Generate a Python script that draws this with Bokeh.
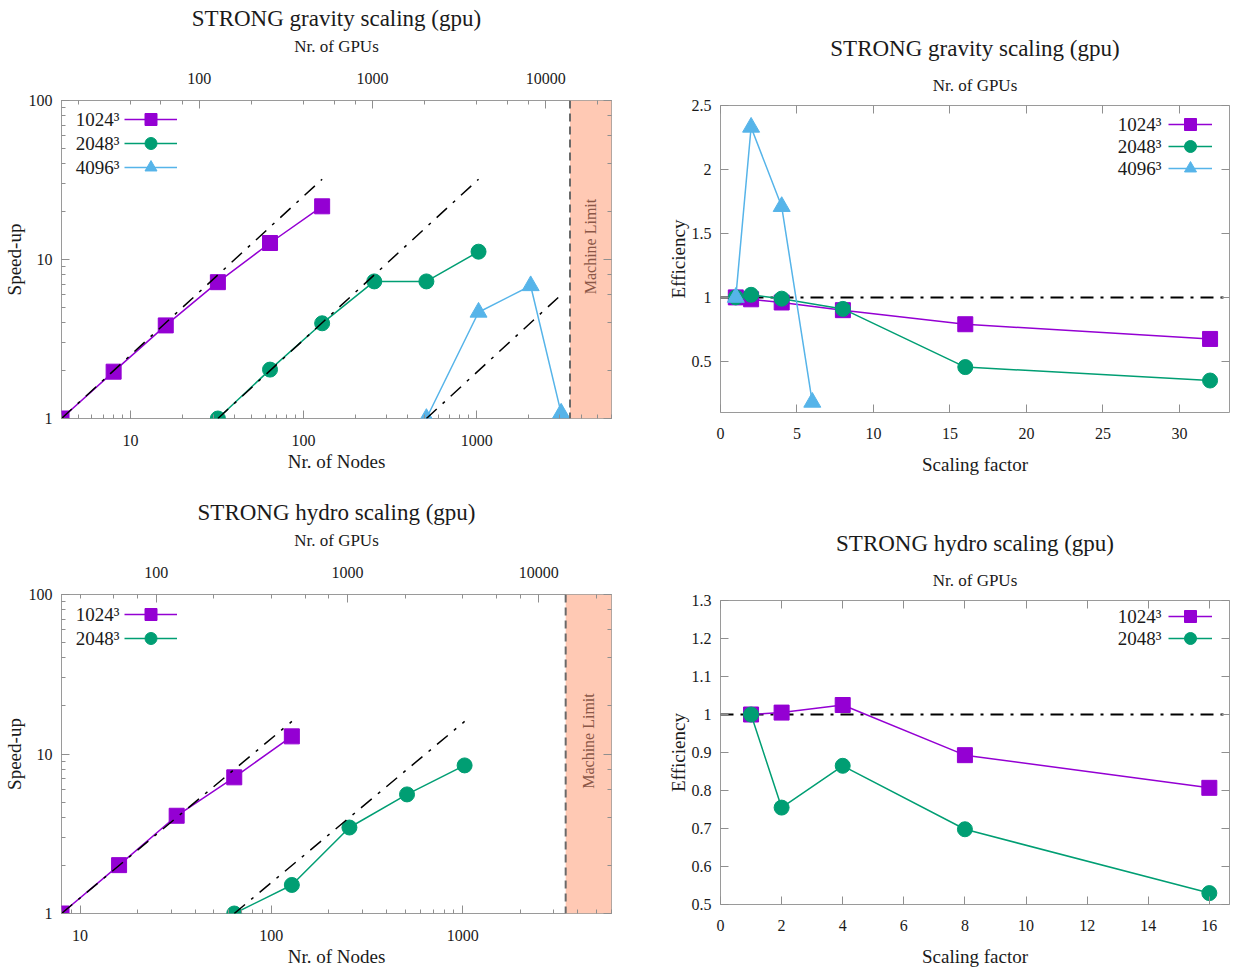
import math
from bokeh.plotting import figure
from bokeh.models import (LogAxis, LinearAxis, Range1d, LogScale, BoxAnnotation, Span, Label,
                          Legend, LegendItem, PrintfTickFormatter, FixedTicker,
                          CustomJSTickFormatter)
from bokeh.layouts import column, row
from bokeh.embed import file_html
from bokeh.resources import INLINE

# ---------------- data ----------------
GPUS_PER_NODE = 4
MACHINE_NODES = 3456
NODE_AXIS_END = 6000

grav_1024_nodes = [4, 8, 16, 32, 64, 128]
grav_1024_speedup = [1.0, 1.97, 3.85, 7.2, 12.7, 21.6]
grav_2048_nodes = [32, 64, 128, 256, 512, 1024]
grav_2048_speedup = [1.0, 2.03, 3.97, 7.28, 7.28, 11.2]
grav_4096_nodes = [512, 1024, 2048, 3072]
grav_4096_speedup = [1.0, 4.66, 6.84, 1.08]

grav_1024_factor = [1, 2, 4, 8, 16, 32]
grav_1024_eff = [1.0, 0.985, 0.96, 0.90, 0.79, 0.675]
grav_2048_factor = [1, 2, 4, 8, 16, 32]
grav_2048_eff = [1.0, 1.02, 0.99, 0.91, 0.455, 0.35]
grav_4096_factor = [1, 2, 4, 6]
grav_4096_eff = [1.0, 2.33, 1.71, 0.18]

hydro_1024_nodes = [8, 16, 32, 64, 128]
hydro_1024_speedup = [1.0, 2.01, 4.1, 7.14, 12.9]
hydro_2048_nodes = [64, 128, 256, 512, 1024]
hydro_2048_speedup = [1.0, 1.51, 3.46, 5.58, 8.48]

hydro_1024_factor = [1, 2, 4, 8, 16]
hydro_1024_eff = [1.0, 1.005, 1.025, 0.893, 0.807]
hydro_2048_factor = [1, 2, 4, 8, 16]
hydro_2048_eff = [1.0, 0.755, 0.865, 0.698, 0.53]

grav_eff_xticks = [0, 5, 10, 15, 20, 25, 30]
grav_eff_yticks = [0.5, 1.0, 1.5, 2.0, 2.5]
hydro_eff_xticks = [0, 2, 4, 6, 8, 10, 12, 14, 16]
hydro_eff_yticks = [0.5, 0.6, 0.7, 0.8, 0.9, 1.0, 1.1, 1.2, 1.3]

labels_3 = ["1024\u00b3", "2048\u00b3", "4096\u00b3"]

# ---------------- style ----------------
FONT = "Liberation Serif"
TXT = "#1a1a1a"
TICK = "#8f8f8f"
FRAME = "#9a9a9a"
COLORS = ["#9400D3", "#009E73", "#56B4E9"]
MARKERS = ["square", "circle", "triangle"]
MSIZE = [15, 15, 17]
SHADE = "#FFC9B4"

BLANK = CustomJSTickFormatter(code="return ' '")


def style_axis(ax, label_size="19px", tick_size="16px"):
    ax.major_label_text_font = FONT
    ax.major_label_text_font_size = tick_size
    ax.major_label_text_color = TXT
    ax.axis_label_text_font = FONT
    ax.axis_label_text_font_size = label_size
    ax.axis_label_text_font_style = "normal"
    ax.axis_label_text_color = TXT
    ax.axis_line_color = None
    ax.major_tick_in = 8
    ax.major_tick_out = 0
    ax.minor_tick_in = 4
    ax.minor_tick_out = 0
    ax.major_tick_line_color = TICK
    ax.minor_tick_line_color = TICK


def hide_labels(ax):
    ax.formatter = BLANK
    ax.major_label_text_font_size = "6px"
    ax.major_label_standoff = 0


def base_fig(title, width, height, mleft, mright, mtop, mbottom, title_standoff, **kw):
    p = figure(width=width, height=height, output_backend="svg", toolbar_location=None,
               min_border_left=mleft, min_border_right=mright,
               min_border_top=mtop, min_border_bottom=mbottom, **kw)
    if "frame_align" in p.properties():
        p.frame_align = False
    p.title.text = title
    p.title.text_font = FONT
    p.title.text_font_size = "23px"
    p.title.text_font_style = "normal"
    p.title.text_color = TXT
    p.title.align = "center"
    p.title.standoff = title_standoff
    p.outline_line_color = FRAME
    p.outline_line_width = 1
    p.xgrid.visible = False
    p.ygrid.visible = False
    p.background_fill_color = "white"
    p.border_fill_color = "white"
    return p


def add_legend(p, renderer_sets, names, glyph_x, glyph_w, text_right, first_row, pitch, frame_h):
    # gnuplot-style key: text on the left, sample on the right, one small legend per row
    gh = 30
    for i, (rs, name) in enumerate(zip(renderer_sets, names)):
        row_c = first_row + i * pitch
        leg = Legend(items=[LegendItem(label=" ", renderers=rs)],
                     location=(glyph_x, frame_h - row_c - gh / 2.0),
                     glyph_width=glyph_w, glyph_height=gh, spacing=0, padding=0, margin=0,
                     border_line_color=None, background_fill_alpha=0,
                     label_text_font_size="10px", label_standoff=0)
        p.add_layout(leg, "center")
        p.add_layout(Label(x=text_right, y=frame_h - row_c,
                           x_units="screen", y_units="screen", text=name,
                           text_font=FONT, text_font_size="19px", text_color=TXT,
                           text_align="right", text_baseline="middle"))


def speedup_panel(title, nodes_list, speed_list, names, width, height, frame_h,
                  mtop, first_row, pitch):
    x0 = nodes_list[0][0]
    p = base_fig(title, width, height, 60, 9, mtop, height - mtop - frame_h, 6,
                 x_axis_type="log", y_axis_type="log",
                 x_range=Range1d(x0, NODE_AXIS_END), y_range=Range1d(1, 100))
    p.extra_x_ranges = {"gpu": Range1d(x0 * GPUS_PER_NODE, NODE_AXIS_END * GPUS_PER_NODE)}
    p.extra_x_scales = {"gpu": LogScale()}

    shade = BoxAnnotation(left=MACHINE_NODES, fill_color=SHADE, fill_alpha=1.0,
                          line_color=None, level="underlay")
    p.add_layout(shade)
    p.add_layout(Span(location=MACHINE_NODES, dimension="height", line_color="#6a6a6a",
                      line_width=2, line_dash="8 5"))
    p.add_layout(Label(x=math.sqrt(MACHINE_NODES * NODE_AXIS_END), y=frame_h / 2.0 + 13,
                       y_units="screen", text="Machine Limit", angle=math.pi / 2,
                       text_font=FONT, text_font_size="16px", text_color="#8B5747",
                       text_align="center", text_baseline="middle"))

    sets = []
    for i, (nx, sy) in enumerate(zip(nodes_list, speed_list)):
        lr = p.line(nx, sy, line_color=COLORS[i], line_width=1.5)
        sr = p.scatter(nx, sy, marker=MARKERS[i], size=MSIZE[i], fill_color=COLORS[i],
                       line_color=COLORS[i])
        sets.append([lr, sr])
    for nx in nodes_list:
        p.line([nx[0], nx[-1]], [1, nx[-1] / nx[0]], line_color="black", line_width=1.5,
               line_dash="14 8 3 8")

    bx = p.xaxis[0]
    style_axis(bx)
    bx.axis_label = "Nr. of Nodes"
    bx.formatter = PrintfTickFormatter(format="%d")
    bx.major_label_standoff = 16
    bx.axis_label_standoff = 2

    ly = p.yaxis[0]
    style_axis(ly)
    ly.axis_label = "Speed-up"
    ly.formatter = PrintfTickFormatter(format="%d")
    ly.major_label_standoff = 9
    ly.axis_label_standoff = 1

    tx = LogAxis(x_range_name="gpu", axis_label="Nr. of GPUs",
                 formatter=PrintfTickFormatter(format="%d"))
    style_axis(tx, label_size="17px")
    tx.major_label_standoff = 17
    tx.axis_label_standoff = 14
    p.add_layout(tx, "above")

    ry = LogAxis()
    style_axis(ry)
    hide_labels(ry)
    p.add_layout(ry, "right")

    add_legend(p, sets, names, 63, 53, 58, first_row, pitch, frame_h)
    return p


def eff_panel(title, fac_list, eff_list, names, x_end, y_lo, y_hi, xticks, yticks,
              width, height, frame_h, mtop, first_row, pitch):
    p = base_fig(title, width, height, 100, 5, mtop, height - mtop - frame_h, 23,
                 x_range=Range1d(0, x_end), y_range=Range1d(y_lo, y_hi))
    p.add_layout(Span(location=1, dimension="width", line_color="black", line_width=2,
                      line_dash="13 7 3 7", level="underlay"))
    sets = []
    for i, (fx, ey) in enumerate(zip(fac_list, eff_list)):
        lr = p.line(fx, ey, line_color=COLORS[i], line_width=1.5)
        sr = p.scatter(fx, ey, marker=MARKERS[i], size=MSIZE[i], fill_color=COLORS[i],
                       line_color=COLORS[i])
        sets.append([lr, sr])

    fmt = CustomJSTickFormatter(code="return String(Math.round(tick*10)/10)")
    bx = p.xaxis[0]
    style_axis(bx)
    bx.ticker = FixedTicker(ticks=xticks)
    bx.minor_tick_line_color = None
    bx.axis_label = "Scaling factor"
    bx.major_label_standoff = 15
    bx.axis_label_standoff = 12

    ly = p.yaxis[0]
    style_axis(ly)
    ly.ticker = FixedTicker(ticks=yticks)
    ly.formatter = fmt
    ly.minor_tick_line_color = None
    ly.axis_label = "Efficiency"
    ly.major_label_standoff = 9
    ly.axis_label_standoff = 0

    tx = LinearAxis(ticker=FixedTicker(ticks=xticks), axis_label="Nr. of GPUs")
    style_axis(tx, label_size="17px")
    hide_labels(tx)
    tx.minor_tick_line_color = None
    tx.axis_label_standoff = 2
    p.add_layout(tx, "above")

    ry = LinearAxis(ticker=FixedTicker(ticks=yticks))
    style_axis(ry)
    hide_labels(ry)
    ry.minor_tick_line_color = None
    p.add_layout(ry, "right")

    frame_w = width - 100 - 5
    add_legend(p, sets, names, frame_w - 61, 44, frame_w - 68, first_row, pitch, frame_h)
    return p


LW, RW = 620, 614
TH, BH = 490, 479

p1 = speedup_panel("STRONG gravity scaling (gpu)",
                   [grav_1024_nodes, grav_2048_nodes, grav_4096_nodes],
                   [grav_1024_speedup, grav_2048_speedup, grav_4096_speedup],
                   labels_3, LW, TH, 318, 100, 19, 24)

p2 = eff_panel("STRONG gravity scaling (gpu)",
               [grav_1024_factor, grav_2048_factor, grav_4096_factor],
               [grav_1024_eff, grav_2048_eff, grav_4096_eff],
               labels_3, 33.27, 0.1, 2.5, grav_eff_xticks, grav_eff_yticks,
               RW, TH, 307, 105, 19, 22)

p3 = speedup_panel("STRONG hydro scaling (gpu)",
                   [hydro_1024_nodes, hydro_2048_nodes],
                   [hydro_1024_speedup, hydro_2048_speedup],
                   labels_3[:2], LW, BH, 319, 104, 20, 24)

p4 = eff_panel("STRONG hydro scaling (gpu)",
               [hydro_1024_factor, hydro_2048_factor],
               [hydro_1024_eff, hydro_2048_eff],
               labels_3[:2], 16.66, 0.5, 1.3, hydro_eff_xticks, hydro_eff_yticks,
               RW, BH, 307, 110, 19, 22)

layout = column(row(p1, p2, spacing=0), row(p3, p4, spacing=0), spacing=0)
open("out.html", "w").write(file_html(layout, INLINE))
